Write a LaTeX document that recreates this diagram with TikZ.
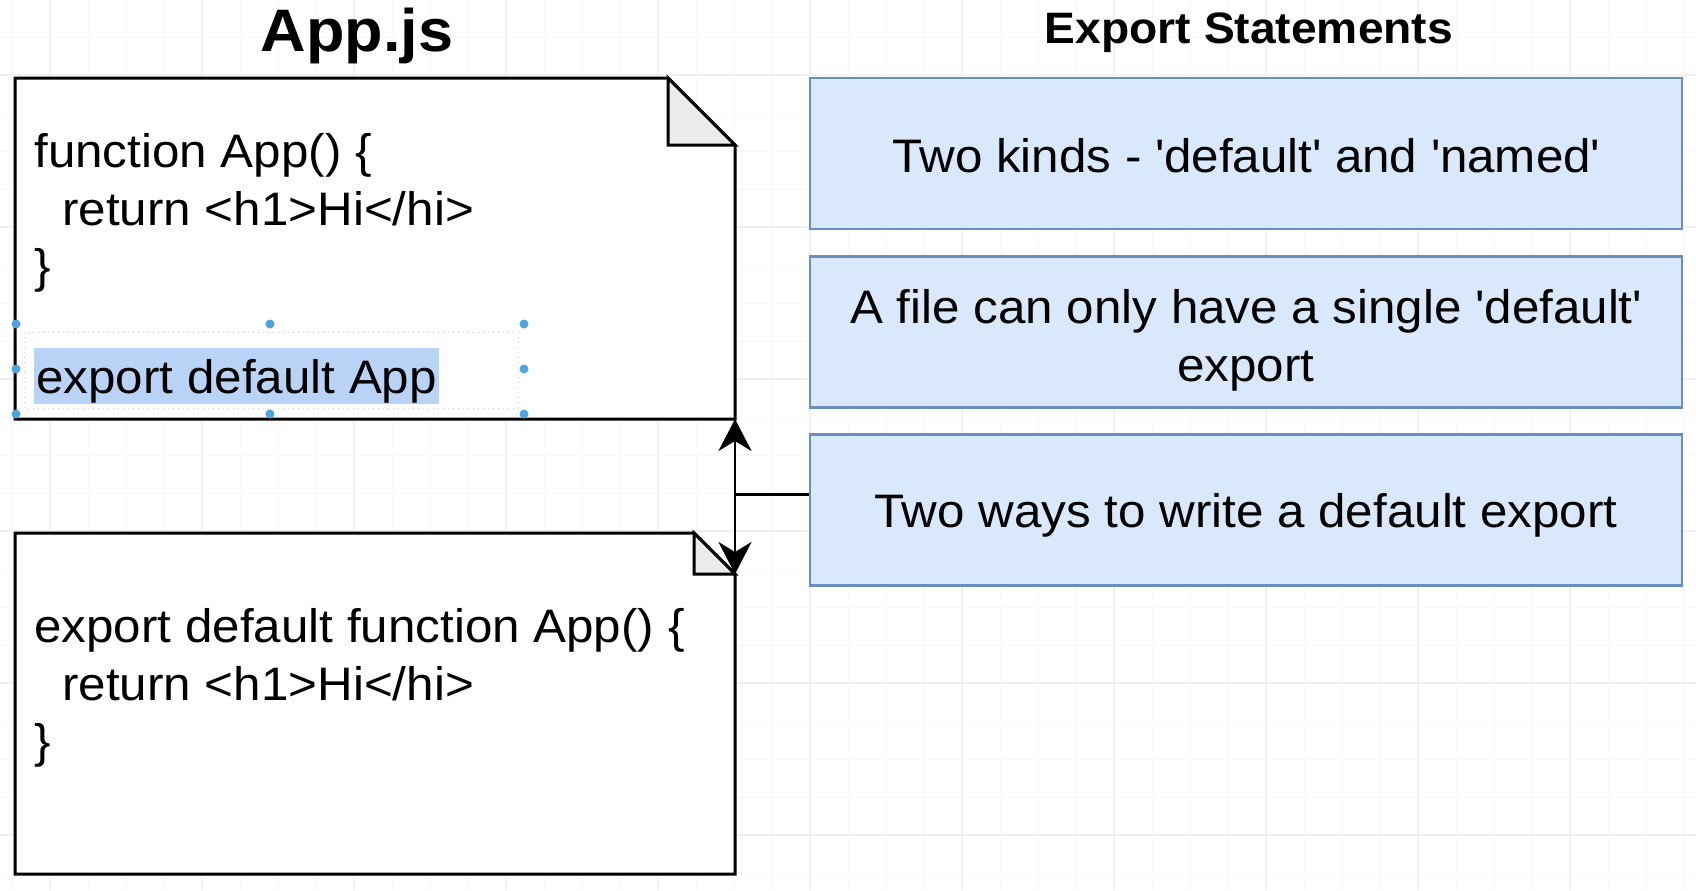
\documentclass[tikz,border=0pt]{standalone}
\usepackage{fontspec}
\setmainfont{Liberation Sans}[FakeStretch=1.05]
\usetikzlibrary{arrows.meta, positioning, calc}

\definecolor{stmtfill}{HTML}{DAE8FC}
\definecolor{stmtline}{HTML}{6C8EBF}
\definecolor{flapfill}{HTML}{EBEBEB}
\definecolor{selfill}{HTML}{B9D3F6}
\definecolor{handle}{HTML}{4FA3DF}
\definecolor{gridminor}{HTML}{F8F8F8}
\definecolor{gridmajor}{HTML}{F1F1F1}

\begin{document}
\begin{tikzpicture}[
      x=0.5pt, y=-0.5pt,
      note/.style={rectangle, minimum width=360pt, minimum height=170.5pt, inner sep=0pt, outer sep=0pt},
      noteline/.style={draw=black, line width=1.5pt, fill=white, line join=miter},
      flap/.style={draw=black, line width=1.5pt, fill=flapfill},
      code/.style={align=left, inner sep=0pt, font=\fontsize{23.5pt}{28.75pt}\selectfont},
      selbox/.style={fill=selfill, inner xsep=1pt, inner ysep=0pt, text height=22.5pt, text depth=5.5pt, font=\fontsize{23.5pt}{28.75pt}\selectfont},
      stmt/.style={rectangle, draw=stmtline, line width=1.3pt, fill=stmtfill, minimum width=436pt, minimum height=75.5pt, align=center, text depth=5pt, font=\fontsize{23.5pt}{29pt}\selectfont},
      title/.style={font=\bfseries\fontsize{30pt}{36pt}\selectfont},
      subtitle/.style={font=\bfseries\fontsize{22pt}{26pt}\selectfont},
      arrow/.style={-{Stealth[length=16pt, width=16.5pt, inset=5pt]}, line width=1.4pt},
      handledot/.style={circle, fill=handle, inner sep=0pt, minimum size=4.5pt}
    ]

    % canvas and grid
    \fill[white] (0,0) rectangle (1696,890);
    \useasboundingbox (0,0) rectangle (1696,890);
    \foreach \gx in {12,50,...,1684} \draw[gridminor, line width=0.5pt] (\gx,0) -- (\gx,890);
    \foreach \gy in {37,75,...,873} \draw[gridminor, line width=0.5pt] (0,\gy) -- (1696,\gy);
    \foreach \gx in {50,202,...,1570} \draw[gridmajor, line width=0.6pt] (\gx,0) -- (\gx,890);
    \foreach \gy in {75,227,...,835} \draw[gridmajor, line width=0.6pt] (0,\gy) -- (1696,\gy);

    % titles
    \node[title] (apptitle) at (357,36) {App.js};
    \node[subtitle] (stmttitle) at (1249,32.5) {Export Statements};

    % the two files
    \node[note] (topnote) at (375,248.5) {};
    \node[note] (botnote) at (375,703.5) {};
    \foreach \n/\f in {topnote/33.5pt, botnote/20.5pt} {
      \draw[noteline] (\n.north west) -- ([xshift=-\f]\n.north east) -- ([yshift=-\f]\n.north east)
        -- (\n.south east) -- (\n.south west) -- cycle;
      \draw[flap] ([xshift=-\f]\n.north east) |- ([yshift=-\f]\n.north east) -- cycle;
    }

    % selected line
    \draw[gray!35, dotted, line width=0.5pt] (24,332) rectangle (518,408);
    \node[selbox, anchor=base west] (expline) at (34,393) {export default App};
    \foreach \hx/\hy [count=\i] in {16/324, 270/324, 524/324, 16/369, 524/369, 16/414, 270/414, 524/414}
      \node[handledot] (handle\i) at (\hx,\hy) {};

    % code, anchored at the baseline of the last line
    \node[code, anchor=base west] (topcode) at (34,282.5)
      {function App() \{\\\hspace*{14pt}return <h1>Hi</hi>\\\}};
    \node[code, anchor=base west] (botcode) at (34,757.5)
      {export default function App() \{\\\hspace*{14pt}return <h1>Hi</hi>\\\}};

    % statements
    \node[stmt, text height=24pt] (kinds) at (1246,153.5) {Two kinds - \textquotesingle default\textquotesingle{} and \textquotesingle named\textquotesingle};
    \node[stmt, below=12.3pt of kinds, text height=55pt] (single) {A file can only have a single \textquotesingle default\textquotesingle\\export};
    \node[stmt, below=12.3pt of single, text height=22.5pt] (ways) {Two ways to write a default export};

    \draw[arrow] ([yshift=7.75pt]ways.west) -| (topnote.south east);
    \draw[arrow] ([yshift=7.75pt]ways.west) -| ([yshift=-20.5pt]botnote.north east);
  \end{tikzpicture}
\end{document}
